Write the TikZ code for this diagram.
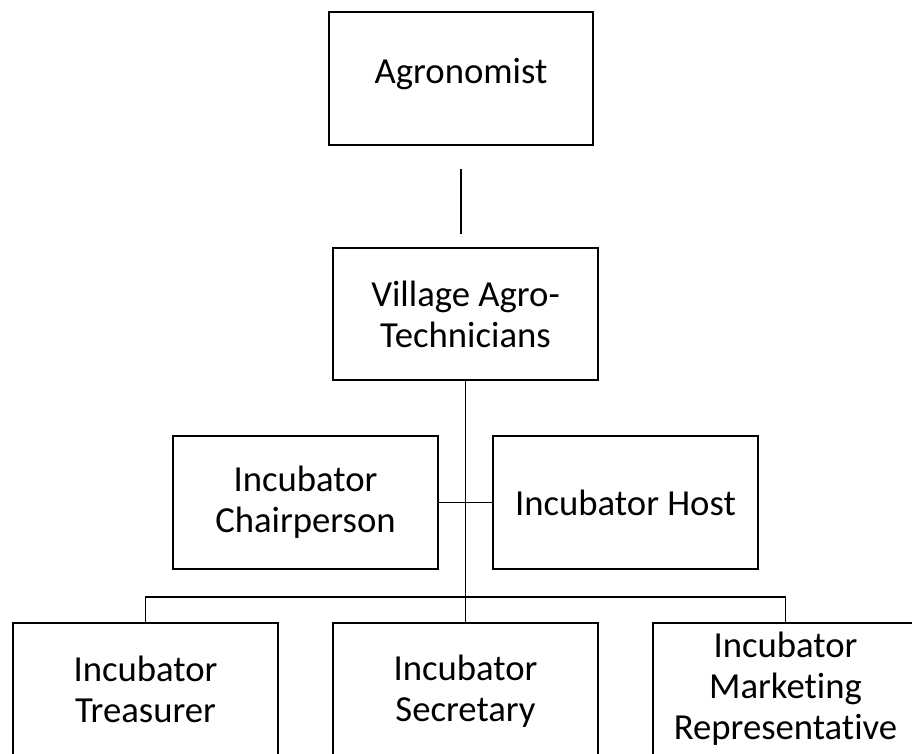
\documentclass[tikz,border=0pt]{standalone}
\usepackage{fontspec}
\setmainfont{Carlito}[Ligatures=NoCommon]
\usetikzlibrary{positioning}

\begin{document}
\begin{tikzpicture}[x=1pt, y=-1pt,
    font=\fontsize{36.7}{41}\selectfont,
    rolebox/.style={rectangle, draw=black, line width=2.5pt, fill=white, align=center,
          minimum width=265pt, minimum height=132pt, inner sep=0pt},
    link/.style={draw=black, line width=1.2pt}]
  \useasboundingbox (0,0) rectangle (912,753);
  \clip (0,0) rectangle (912,753);

  \node[rolebox, minimum width=264pt, minimum height=133pt, text depth=1.6em] (agro) at (461,78.5) {Agronomist};
  \node[rolebox] (vat) at (465.5,314) {Village Agro-\\Technicians};
  \node[rolebox, minimum height=133pt] (chair) at (305.5,502.5) {Incubator\\Chairperson};
  \node[rolebox, minimum height=133pt] (host) at (625.5,502.5) {Incubator Host};
  \node[rolebox] (treas) at (145.5,689) {Incubator\\Treasurer};
  \node[rolebox, text depth=0.1em] (sec) at (465.5,689) {Incubator\\Secretary};
  \node[rolebox] (mkt) at (785.5,689) {Incubator\\Marketing\\Representative};

  % loose stroke between the two top boxes
  \coordinate (gtop) at ([yshift=-23pt]agro.south);
  \coordinate (gbot) at ([yshift=13pt]vat.north -| agro.south);
  \draw[link] (gtop) -- (gbot);

  \coordinate (bus) at (465.5,597);
  \draw[link] (vat.south) -- (sec.north);
  \draw[link] (chair.east) -- (host.west);
  \draw[link] (treas.north) |- (bus) -| (mkt.north);
\end{tikzpicture}
\end{document}
